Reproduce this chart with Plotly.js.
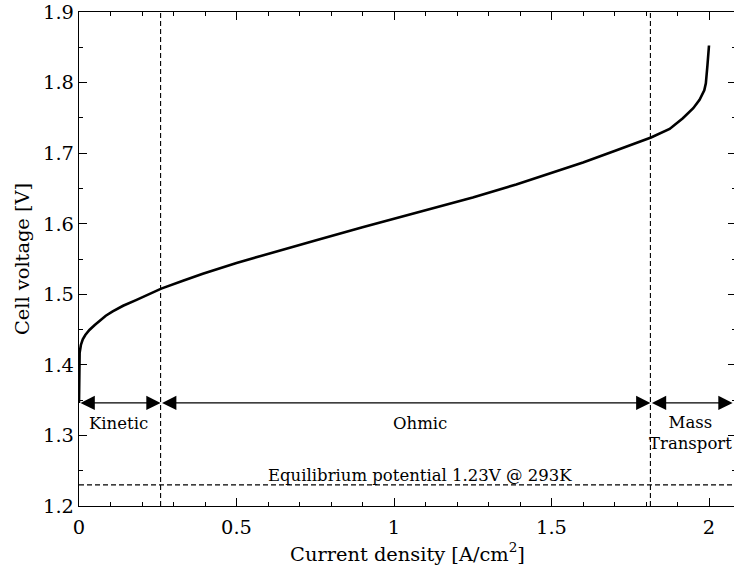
<!DOCTYPE html>
<html>
<head>
<meta charset="utf-8">
<script src="https://cdn.plot.ly/plotly-3.0.1.min.js"></script>
<style>html,body{margin:0;padding:0;overflow:hidden;background:#fff;}</style>
</head>
<body>
<div id="chart"></div>
<script>
// Polarization curve
const currentDensity = [0, 0.0005, 0.002, 0.006, 0.012, 0.02, 0.033, 0.05, 0.065, 0.085, 0.107, 0.14, 0.181, 0.22, 0.261, 0.33, 0.393, 0.5, 0.6, 0.753, 0.9, 1.07, 1.25, 1.388, 1.5, 1.6, 1.7, 1.816, 1.875, 1.917, 1.95, 1.97, 1.985, 1.99, 1.995, 2.0];
const cellVoltage    = [1.346, 1.3898, 1.4171, 1.4282, 1.4363, 1.4423, 1.4494, 1.4565, 1.4625, 1.4696, 1.4757, 1.4837, 1.4918, 1.4999, 1.508, 1.5191, 1.5292, 1.5444, 1.5575, 1.5767, 1.5949, 1.6151, 1.6373, 1.6555, 1.6717, 1.6868, 1.703, 1.7222, 1.7343, 1.7495, 1.7636, 1.7757, 1.7889, 1.799, 1.8242, 1.8525];

// Region boundaries and labels
const regionBounds = [0, 0.259, 1.814, 2.075];
const regionLabels = ["Kinetic", "Ohmic", "Mass<br>Transport"];
const regionLabelX = [0.126, 1.084, 1.941];
const regionLabelY = [1.3176, 1.3176, 1.3034];
const arrowLevel = 1.346;
const equilibriumV = 1.23;
const equilibriumText = "Equilibrium potential 1.23V @ 293K";
const equilibriumTextPos = [1.084, 1.2439];

const xRange = [0, 2.0857];
const yRange = [1.2, 1.9];
const xTicks = [0, 0.5, 1, 1.5, 2];
const xTickText = ["0", "0.5", "1", "1.5", "2"];
const xMinorTicks = [0.1, 0.2, 0.3, 0.4, 0.6, 0.7, 0.8, 0.9, 1.1, 1.2, 1.3, 1.4, 1.6, 1.7, 1.8, 1.9];
const yTicks = [1.2, 1.3, 1.4, 1.5, 1.6, 1.7, 1.8, 1.9];
const yTickText = ["1.2", "1.3", "1.4", "1.5", "1.6", "1.7", "1.8", "1.9"];
const yMinorTicks = [1.25, 1.35, 1.45, 1.55, 1.65, 1.75, 1.85];

const FONT = "DejaVu Serif";
const TICK_SIZE = 19.4;
const NOTE_SIZE = 16.5;

const traces = [
  {x: currentDensity, y: cellVoltage, type: "scatter", mode: "lines",
   line: {color: "#000", width: 2.6}, hoverinfo: "skip"},
  // invisible trace to bring up the mirrored top/right axes
  {x: [xRange[0]], y: [yRange[0]], xaxis: "x2", yaxis: "y2", type: "scatter", mode: "markers",
   marker: {opacity: 0}, hoverinfo: "skip"}
];

const dashStyle = "5px,3px";
const shapes = [
  {type: "line", xref: "x", yref: "paper", x0: regionBounds[1], x1: regionBounds[1], y0: 0, y1: 1, line: {color: "#000", width: 1.1, dash: dashStyle}},
  {type: "line", xref: "x", yref: "paper", x0: regionBounds[2], x1: regionBounds[2], y0: 0, y1: 1, line: {color: "#000", width: 1.1, dash: dashStyle}},
  {type: "line", xref: "paper", yref: "y", x0: 0, x1: 1, y0: equilibriumV, y1: equilibriumV, line: {color: "#000", width: 1.1, dash: dashStyle}}
];

const annotations = [];
for (let i = 0; i < 3; i++) {
  annotations.push({
    x: regionBounds[i + 1], y: arrowLevel, ax: regionBounds[i], ay: arrowLevel,
    xref: "x", yref: "y", axref: "x", ayref: "y", text: "",
    showarrow: true, arrowhead: 2, startarrowhead: 2, arrowside: "end+start",
    arrowsize: 2.2, startarrowsize: 2.2, arrowwidth: 1.3, arrowcolor: "#000",
    standoff: 0, startstandoff: 0
  });
  annotations.push({
    x: regionLabelX[i], y: regionLabelY[i], xref: "x", yref: "y",
    text: regionLabels[i], showarrow: false, xanchor: "center", yanchor: "middle",
    font: {family: FONT, size: NOTE_SIZE, color: "#000"}
  });
}
annotations.push({
  x: equilibriumTextPos[0], y: equilibriumTextPos[1], xref: "x", yref: "y", text: equilibriumText, showarrow: false,
  xanchor: "center", yanchor: "middle", font: {family: FONT, size: NOTE_SIZE, color: "#000"}
});

const axisCommon = {
  showgrid: false, zeroline: false, showline: true, linecolor: "#000", linewidth: 1.2,
  ticks: "inside", ticklen: 8, tickwidth: 1, tickcolor: "#000",
  tickfont: {family: FONT, size: TICK_SIZE, color: "#000"}
};
const xMinor = {ticks: "inside", tickvals: xMinorTicks, ticklen: 4, tickwidth: 1, tickcolor: "#000"};
const yMinor = {ticks: "inside", tickvals: yMinorTicks, ticklen: 4, tickwidth: 1, tickcolor: "#000"};

const layout = {
  width: 738, height: 569,
  margin: {l: 79, r: 2, t: 12, b: 63},
  paper_bgcolor: "#fff", plot_bgcolor: "#fff",
  showlegend: false,
  font: {family: FONT, color: "#000"},
  xaxis: Object.assign({}, axisCommon, {
    range: xRange, tickmode: "array", tickvals: xTicks, ticktext: xTickText,
    ticklabelstandoff: 4, minor: xMinor,
    title: {text: "Current density [A/cm<sup>2</sup>]", font: {family: FONT, size: TICK_SIZE, color: "#000"}, standoff: 0}
  }),
  yaxis: Object.assign({}, axisCommon, {
    range: yRange, tickmode: "array", tickvals: yTicks, ticktext: yTickText,
    minor: yMinor,
    title: {text: "Cell voltage [V]", font: {family: FONT, size: TICK_SIZE, color: "#000"}, standoff: 8}
  }),
  xaxis2: Object.assign({}, axisCommon, {
    overlaying: "x", side: "top", range: xRange, tickmode: "array", tickvals: xTicks,
    showticklabels: false, minor: xMinor
  }),
  yaxis2: Object.assign({}, axisCommon, {
    overlaying: "y", side: "right", range: yRange, tickmode: "array", tickvals: yTicks,
    showticklabels: false, minor: yMinor
  }),
  shapes: shapes,
  annotations: annotations
};

Plotly.newPlot("chart", traces, layout, {staticPlot: true, displayModeBar: false});
</script>
</body>
</html>
